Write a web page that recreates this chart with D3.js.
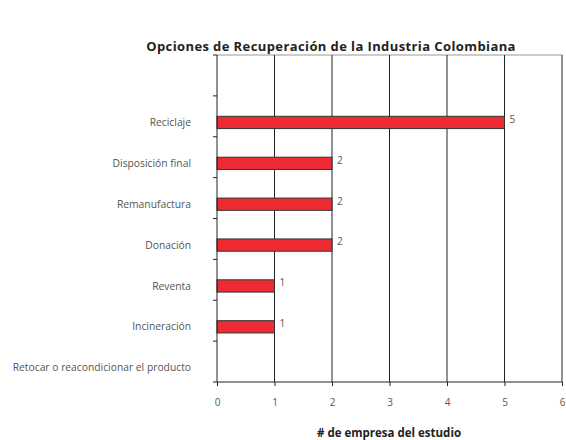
<!DOCTYPE html>
<html>
<head>
<meta charset="utf-8">
<script src="https://cdn.jsdelivr.net/npm/d3@7"></script>
<style>
  body { margin: 0; background: #fff; }
  text { font-family: "Open Sans", "Noto Sans", sans-serif; }
</style>
</head>
<body>
<svg id="chart" width="566" height="440"></svg>
<script>
// categories top to bottom (first slot is an empty category)
const categories = ["", "Reciclaje", "Disposición final", "Remanufactura", "Donación", "Reventa", "Incineración", "Retocar o reacondicionar el producto"];
const values = [null, 5, 2, 2, 2, 1, 1, 0];
const xTicks = [0, 1, 2, 3, 4, 5, 6];

const svg = d3.select("#chart");
const margin = {left: 217, right: 4, top: 55, bottom: 58};
const w = 566 - margin.left - margin.right;
const h = 440 - margin.top - margin.bottom;

const g = svg.append("g").attr("transform", `translate(${margin.left},${margin.top})`);

let x = d3.scaleLinear().domain([0, 6]).range([0, w]);
let y = d3.scaleBand().domain(categories).range([0, h]);
const bw = y.bandwidth();

// top border
g.append("line").attr("x1", 0).attr("x2", w).attr("y1", 0).attr("y2", 0)
  .attr("stroke", "#999").attr("stroke-width", 1);

// vertical gridlines
g.selectAll("line.grid").data(xTicks.slice(1)).enter()
  .append("line").attr("class", "grid")
  .attr("x1", d => x(d)).attr("x2", d => x(d))
  .attr("y1", 0).attr("y2", h)
  .attr("stroke", "#222").attr("stroke-width", 1);

// bars
const data = categories.map((c, i) => ({c: c, v: values[i]})).filter(d => d.v !== null);
g.selectAll("rect.bar").data(data.filter(d => d.v > 0)).enter()
  .append("rect").attr("class", "bar")
  .attr("x", x(0))
  .attr("y", d => y(d.c) + bw * 0.5)
  .attr("width", d => x(d.v) - x(0))
  .attr("height", bw * 0.3)
  .attr("fill", "#ee2b33")
  .attr("stroke", "#333").attr("stroke-width", 1);

// value labels
g.selectAll("text.val").data(data.filter(d => d.v > 0)).enter()
  .append("text").attr("class", "val")
  .attr("x", d => x(d.v) + 5)
  .attr("y", d => y(d.c) + bw * 0.5 - 1)
  .attr("dy", "0.75em")
  .attr("font-size", 10).attr("fill", "#555")
  .text(d => d.v);

// category labels
g.selectAll("text.cat").data(data).enter()
  .append("text").attr("class", "cat")
  .attr("x", -26)
  .attr("y", d => y(d.c) + bw * 0.65)
  .attr("dy", "0.35em")
  .attr("text-anchor", "end")
  .attr("font-size", 10.3).attr("fill", "#555")
  .text(d => d.c);

// y axis line and ticks (at band boundaries)
g.append("line").attr("x1", 0).attr("x2", 0).attr("y1", 0).attr("y2", h)
  .attr("stroke", "#222");
const bounds = categories.map(c => y(c)).concat([h]);
g.selectAll("line.ytick").data(bounds).enter()
  .append("line").attr("class", "ytick")
  .attr("x1", -4).attr("x2", 0)
  .attr("y1", d => d).attr("y2", d => d)
  .attr("stroke", "#222");

// x axis
let xAxis = d3.axisBottom(x).tickValues(xTicks).tickFormat(d3.format("d")).tickSize(4).tickPadding(13);
const xg = g.append("g").attr("transform", `translate(0,${h})`).call(xAxis);
xg.select(".domain").attr("stroke", "#222").attr("d", `M0,0H${w}`);
xg.selectAll(".tick line").attr("stroke", "#222");
xg.selectAll(".tick text").attr("font-size", 10).attr("fill", "#555")
  .attr("font-family", "'Open Sans', 'Noto Sans', sans-serif");

// titles
svg.append("text").attr("x", 331).attr("y", 51)
  .attr("text-anchor", "middle").attr("font-size", 13).attr("font-weight", "bold")
  .attr("letter-spacing", 0.4)
  .attr("fill", "#222")
  .text("Opciones de Recuperación de la Industria Colombiana");

svg.append("text").attr("x", 389).attr("y", 437)
  .attr("text-anchor", "middle").attr("font-size", 11.5).attr("font-weight", "bold")
  .attr("fill", "#222")
  .text("# de empresa del estudio");
</script>
</body>
</html>
